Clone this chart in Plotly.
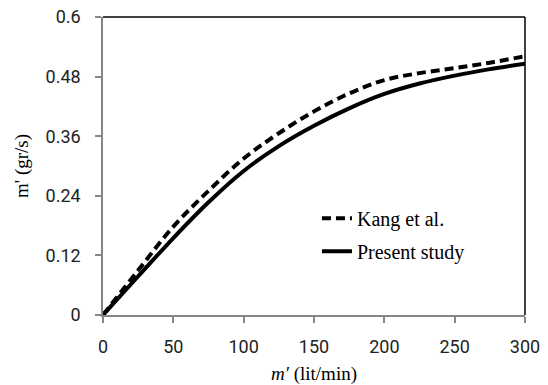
import plotly.graph_objects as go

flow = [0, 25, 50, 75, 100, 125, 150, 175, 200, 225, 250, 275, 300]
present = [0, 0.078, 0.155, 0.227, 0.29, 0.34, 0.381, 0.416, 0.445, 0.466, 0.482, 0.495, 0.506]
kang = [0, 0.09, 0.178, 0.25, 0.315, 0.366, 0.41, 0.446, 0.473, 0.487, 0.497, 0.508, 0.521]

x_ticks = [0, 50, 100, 150, 200, 250, 300]
y_ticks = [0, 0.12, 0.24, 0.36, 0.48, 0.6]
y_labels = ["0", "0.12", "0.24", "0.36", "0.48", "0.6"]

fig = go.Figure()
fig.add_trace(go.Scatter(x=flow, y=kang, mode="lines", name="Kang et al.", legendgroup="a",
                         line=dict(color="black", width=4, dash="9px,5px", shape="spline")))
fig.add_trace(go.Scatter(x=flow, y=present, mode="lines", name="Present study", legendgroup="b",
                         line=dict(color="black", width=4, shape="spline")))

axis_common = dict(showgrid=False, zeroline=False, showline=True, linecolor="#868686", linewidth=1.5,
                   ticks="outside", ticklen=6, tickcolor="#868686", tickwidth=1.5, automargin=False,
                   tickfont=dict(family="Roboto", size=18, color="#222"))
fig.update_xaxes(range=[0, 300], tickvals=x_ticks, ticktext=[str(v) for v in x_ticks],
                 ticklabelstandoff=9,
                 title=dict(text="<i>m′</i> (lit/min)", font=dict(family="Liberation Serif", size=19, color="black"), standoff=13),
                 **axis_common)
fig.update_yaxes(range=[0, 0.6], tickvals=y_ticks, ticktext=y_labels,
                 ticklabelstandoff=11,
                 title=dict(text="m' (gr/s)", font=dict(family="Liberation Serif", size=19, color="black"), standoff=12),
                 **axis_common)

fig.add_shape(type="line", xref="paper", yref="paper", x0=0, x1=1, y0=1, y1=1, line=dict(color="black", width=1.5))
fig.add_shape(type="line", xref="paper", yref="paper", x0=1, x1=1, y0=0, y1=1, line=dict(color="black", width=1.5))

fig.update_layout(
    width=548, height=385,
    margin=dict(l=103, r=23, t=17, b=70),
    paper_bgcolor="white", plot_bgcolor="white",
    showlegend=True,
    legend=dict(x=0.507, y=0.39, xanchor="left", yanchor="top", bgcolor="rgba(0,0,0,0)",
                font=dict(family="Liberation Serif", size=20, color="black"), tracegroupgap=4),
)

fig.write_html("out.html")
